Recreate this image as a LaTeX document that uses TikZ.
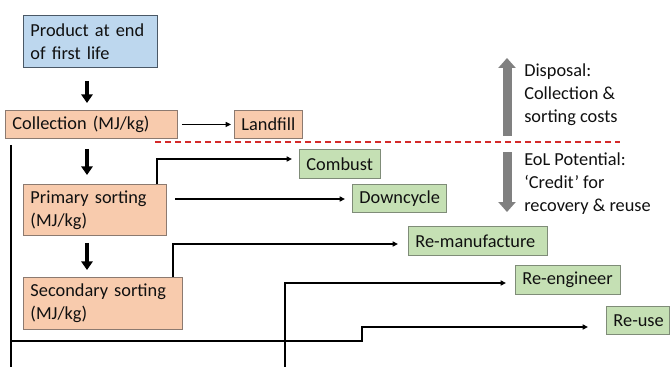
\documentclass[tikz,border=0pt]{standalone}
\usepackage{fontspec}
\setmainfont{Carlito}
\usetikzlibrary{arrows.meta}
\definecolor{bluefill}{HTML}{BDD7EE}
\definecolor{blueline}{HTML}{4A5866}
\definecolor{peachfill}{HTML}{F8CBAD}
\definecolor{peachline}{HTML}{8C7A70}
\definecolor{greenfill}{HTML}{C5E0B4}
\definecolor{greenline}{HTML}{7F8C78}
\definecolor{dashred}{HTML}{D42A2A}
\definecolor{arrowgray}{HTML}{808080}
\definecolor{textcol}{HTML}{101010}
\exhyphenpenalty=10000
\hyphenpenalty=10000
\tikzset{
  bx/.style={draw, line width=0.7pt, inner xsep=5.25pt, inner ysep=0pt, align=left,
    anchor=north west, font=\fontsize{13.75}{17.25}\selectfont, text=textcol},
  bluebox/.style={bx, fill=bluefill, draw=blueline},
  peachbox/.style={bx, fill=peachfill, draw=peachline},
  greenbox/.style={bx, fill=greenfill, draw=greenline},
  bigarrow/.style={line width=3pt, -{Triangle[length=6.5pt,width=8.5pt]}},
  thinarrow/.style={line width=1.25pt, -{Triangle[length=4pt,width=3.75pt]}},
  plainline/.style={line width=1.25pt},
  grayarrow/.style={line width=6.75pt, draw=arrowgray, -{Triangle[length=7.5pt,width=12.75pt]}},
  sidetext/.style={inner sep=0pt, align=left, anchor=west, font=\fontsize{13.75}{17.25}\selectfont, text=textcol},
}
\begin{document}
\exhyphenpenalty=10000
\hyphenpenalty=10000
\begin{tikzpicture}[x=0.75pt,y=-0.75pt]
\useasboundingbox (0,0) rectangle (670,367);

% boxes
\node[bluebox, text width=90pt, minimum height=39pt] (prod) at (23,15) {Product at end\\of first life};
\node[peachbox, text width=118.5pt, minimum height=21pt] (coll) at (5,110) {Collection (MJ/kg)};
\node[peachbox, text width=40.5pt, minimum height=21pt] (land) at (234,110) {Landfill};
\node[peachbox, text width=96.75pt, minimum height=38.25pt] (prim) at (23,184) {Primary sorting\\(MJ/kg)};
\node[peachbox, text width=108.75pt, minimum height=39pt] (sec) at (23,277) {Secondary sorting\\(MJ/kg)};
\node[greenbox, text width=50.25pt, minimum height=21.75pt] (comb) at (299,149) {Combust};
\node[greenbox, text width=60pt, minimum height=21pt] (down) at (352,184) {Downcycle};
\node[greenbox, text width=93.75pt, minimum height=21.75pt] (reman) at (408,226) {Re-manufacture};
\node[greenbox, text width=68.25pt, minimum height=21.75pt] (reeng) at (515,265) {Re-engineer};
\node[greenbox, text width=36.75pt, minimum height=21pt] (reuse) at (606,306) {Re-use};

% side texts
\node[sidetext] (disp) at (524,95) {Disposal:\\Collection \&\\sorting costs};
\node[sidetext] (eol) at (524,184) {EoL Potential:\\‘Credit’ for\\recovery \& reuse};

% gray arrows
\coordinate (gupA) at (507,136);
\coordinate (gupB) at (507,58);
\coordinate (gdnA) at (507,152);
\coordinate (gdnB) at (507,212);
\draw[grayarrow] (gupA) -- (gupB);
\draw[grayarrow] (gdnA) -- (gdnB);

% dashed line
\coordinate (dashA) at (155,142);
\coordinate (dashB) at (620,142);
\draw[dashred, line width=1.5pt, dash pattern=on 4.5pt off 3pt] (dashA) -- (dashB);

% main down arrows
\coordinate (c87) at (87,0);
\draw[bigarrow, shorten <=9.75pt, shorten >=5.25pt] (c87 |- prod.south) -- (c87 |- coll.north);
\draw[bigarrow, shorten <=7.5pt, shorten >=6.75pt] (c87 |- coll.south) -- (c87 |- prim.north);
\draw[bigarrow, shorten <=5.25pt, shorten >=5.25pt] (c87 |- prim.south) -- (c87 |- sec.north);

% collection -> landfill
\draw[thinarrow, shorten <=3pt, shorten >=2.25pt] (coll.east) -- (land.west);

% combust
\coordinate (c157) at (157,159);
\draw[thinarrow, shorten >=5.25pt] (c157 |- prim.north) -- (c157) -- (c157 -| comb.west);

% downcycle
\coordinate (dcA) at (175,199);
\draw[thinarrow, shorten >=5.25pt] (dcA) -- (dcA -| down.west);

% re-manufacture
\coordinate (c173) at (173,244);
\draw[thinarrow, shorten >=7.5pt] (c173 |- sec.north) -- (c173) -- (c173 -| reman.west);

% re-engineer
\coordinate (reB) at (285,367);
\coordinate (c285) at (285,283);
\draw[thinarrow, line width=1.6pt, shorten >=6.75pt] (reB) -- (c285) -- (c285 -| reeng.west);

% left line and re-use
\coordinate (lt) at (11,145);
\coordinate (lb) at (11,367);
\coordinate (lm) at (11,341);
\coordinate (st1) at (362,341);
\coordinate (st2) at (362,327);
\draw[plainline] (lt) -- (lb);
\draw[thinarrow, shorten >=13.5pt] (lm) -- (st1) -- (st2) -- (st2 -| reuse.west);
\end{tikzpicture}
\end{document}
